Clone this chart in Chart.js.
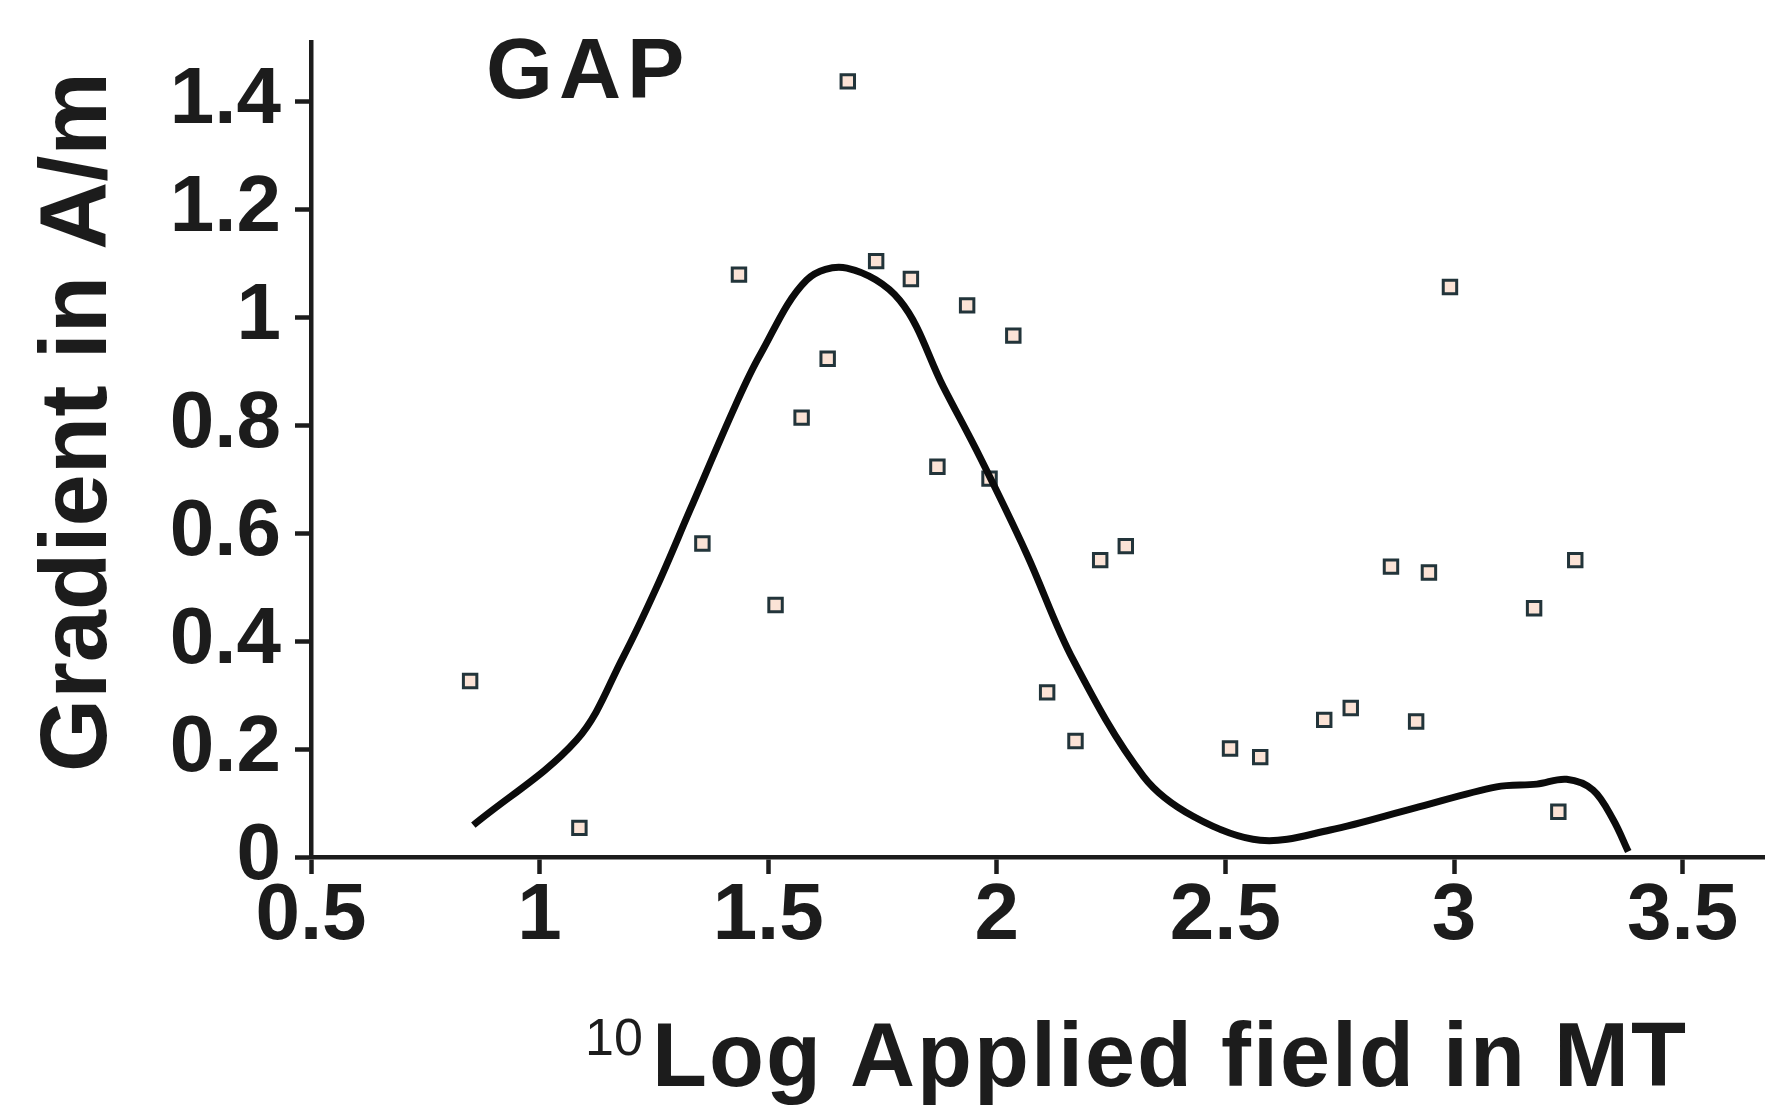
<!DOCTYPE html>
<html>
<head>
<meta charset="utf-8">
<title>GAP gradient vs applied field</title>
<script src="https://cdn.jsdelivr.net/npm/chart.js@4/dist/chart.umd.min.js"></script>
<style>
  html, body { margin: 0; padding: 0; background: #ffffff; }
  #wrap { width: 1765px; height: 1111px; position: relative; }
  canvas { display: block; }
</style>
</head>
<body>
<div id="wrap"><canvas id="chart" width="1765" height="1111"></canvas></div>
<script>
// Measured samples: log10 of the applied field (MT) and gradient (A/m)
const fieldLog = [0.848, 1.087, 1.356, 1.436, 1.516, 1.573, 1.630, 1.674, 1.736, 1.812,
                  1.870, 1.935, 1.984, 2.036, 2.110, 2.172, 2.226, 2.282, 2.510, 2.576,
                  2.716, 2.774, 2.862, 2.917, 2.945, 2.991, 3.175, 3.228, 3.265];
const gradient = [0.326, 0.054, 0.581, 1.079, 0.467, 0.814, 0.923, 1.437, 1.104, 1.071,
                  0.723, 1.022, 0.701, 0.966, 0.305, 0.215, 0.550, 0.576, 0.201, 0.185,
                  0.254, 0.276, 0.538, 0.251, 0.527, 1.056, 0.461, 0.084, 0.550];

// Smoothed trend through the samples
const fitLog      = [0.855, 1.081, 1.183, 1.256, 1.329, 1.430, 1.482, 1.584, 1.672, 1.788,
                     1.883, 1.963, 2.065, 2.167, 2.321, 2.430, 2.576, 2.729, 2.911, 3.093,
                     3.181, 3.246, 3.304, 3.348, 3.381];
const fitGradient = [0.059, 0.217, 0.371, 0.500, 0.643, 0.840, 0.930, 1.069, 1.091, 1.031,
                     0.871, 0.741, 0.562, 0.365, 0.149, 0.075, 0.031, 0.050, 0.090, 0.130,
                     0.135, 0.144, 0.124, 0.069, 0.010];

const xTickLabels = ['0.5', '1', '1.5', '2', '2.5', '3', '3.5'];
const yTickLabels = ['0', '0.2', '0.4', '0.6', '0.8', '1', '1.2', '1.4'];

const panelLabel = 'GAP';
const yTitle = 'Gradient in A/m';
const xTitleSup = '10';
const xTitleMain = 'Log Applied field in MT';

const ink = '#1c1c1c';
const family = '"Liberation Sans", Arial, Helvetica, sans-serif';

// Panel label and axis titles drawn on the canvas
const panelText = {
  id: 'panelText',
  afterDraw(chart) {
    const ctx = chart.ctx;
    const spacing = (v) => { if ('letterSpacing' in ctx) ctx.letterSpacing = v; };
    ctx.save();
    ctx.fillStyle = ink;
    ctx.textBaseline = 'alphabetic';
    ctx.textAlign = 'left';

    ctx.font = 'bold 86px ' + family;
    spacing('6px');
    ctx.fillText(panelLabel, 486, 98);

    ctx.font = 'bold 90px ' + family;
    spacing('2px');
    ctx.fillText(xTitleMain, 652, 1086);

    ctx.font = '52px ' + family;
    spacing('0px');
    ctx.fillText(xTitleSup, 585, 1055);

    ctx.translate(106, 422);
    ctx.rotate(-Math.PI / 2);
    ctx.font = 'bold 94px ' + family;
    ctx.textAlign = 'center';
    ctx.fillText(yTitle, 0, 0);
    ctx.restore();
  }
};

const toPoints = (xs, ys) => xs.map((x, i) => ({ x: x, y: ys[i] }));
const noPadding = (scale) => {
  scale.paddingTop = 0; scale.paddingBottom = 0;
  scale.paddingLeft = 0; scale.paddingRight = 0;
};

new Chart(document.getElementById('chart'), {
  type: 'scatter',
  data: {
    datasets: [
      {
        label: 'trend',
        data: toPoints(fitLog, fitGradient),
        showLine: true,
        borderColor: '#0b0b0b',
        borderWidth: 7,
        borderCapStyle: 'butt',
        pointRadius: 0,
        tension: 0.35,
        fill: false,
        order: 0
      },
      {
        label: 'samples',
        data: toPoints(fieldLog, gradient),
        pointStyle: 'rect',
        pointRadius: 9.5,
        pointBorderWidth: 3,
        pointBorderColor: '#22343a',
        pointBackgroundColor: '#fbe3d6',
        order: 1
      }
    ]
  },
  options: {
    responsive: false,
    animation: false,
    layout: { autoPadding: false, padding: { top: 42, right: 0, bottom: 0, left: 0 } },
    plugins: {
      legend: { display: false },
      tooltip: { enabled: false },
      title: { display: false }
    },
    scales: {
      x: {
        type: 'linear',
        min: 0.5,
        max: 3.68,
        afterFit(scale) { scale.height = 254; noPadding(scale); },
        border: { display: true, color: ink, width: 4.5 },
        grid: { drawOnChartArea: false, drawTicks: true, tickLength: 17, tickWidth: 4.5, tickColor: ink },
        ticks: {
          stepSize: 0.5,
          includeBounds: false,
          maxRotation: 0,
          autoSkip: false,
          padding: 3,
          color: ink,
          font: { family: family, size: 80, weight: 'bold', lineHeight: 1 },
          callback: (v) => xTickLabels[Math.round((v - 0.5) / 0.5)]
        }
      },
      y: {
        type: 'linear',
        min: 0,
        max: 1.51,
        afterFit(scale) { scale.width = 311; noPadding(scale); },
        border: { display: true, color: ink, width: 4.5 },
        grid: { drawOnChartArea: false, drawTicks: true, tickLength: 16, tickWidth: 4.5, tickColor: ink },
        ticks: {
          stepSize: 0.2,
          includeBounds: false,
          autoSkip: false,
          padding: 14,
          color: ink,
          font: { family: family, size: 80, weight: 'bold', lineHeight: 1 },
          callback: (v) => yTickLabels[Math.round(v / 0.2)]
        }
      }
    }
  },
  plugins: [panelText]
});
</script>
</body>
</html>
